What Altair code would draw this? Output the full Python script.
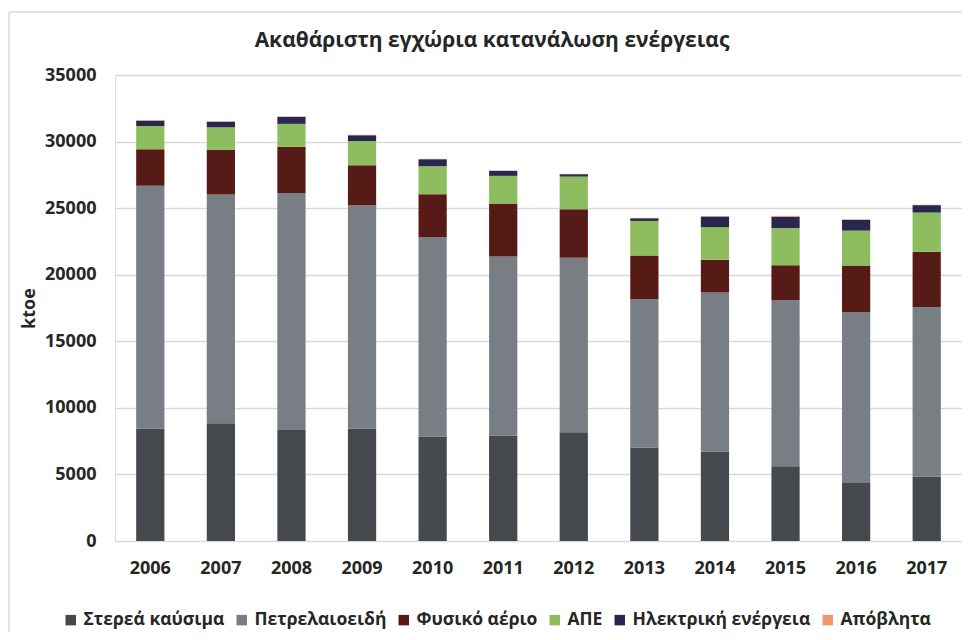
import altair as alt
import pandas as pd

years = ["2006", "2007", "2008", "2009", "2010", "2011",
         "2012", "2013", "2014", "2015", "2016", "2017"]
series = ["Στερεά καύσιμα", "Πετρελαιοειδή", "Φυσικό αέριο", "ΑΠΕ",
          "Ηλεκτρική ενέργεια", "Απόβλητα"]
colors = ["#45484d", "#797d84", "#561b16", "#8dbd5e", "#27274f", "#f2976c"]

solid = [8440, 8840, 8340, 8440, 7840, 7915, 8165, 7015, 6715, 5610, 4365, 4840]
petroleum = [18250, 17180, 17790, 16785, 14985, 13455, 13105, 11155, 11950, 12485, 12830, 12730]
gas = [2730, 3350, 3470, 3000, 3225, 3975, 3655, 3270, 2455, 2625, 3495, 4150]
res = [1750, 1700, 1730, 1825, 2100, 2080, 2445, 2600, 2455, 2775, 2625, 2950]
elec = [400, 420, 525, 425, 525, 375, 180, 200, 795, 850, 805, 555]
waste = [40, 30, 30, 30, 30, 30, 30, 30, 30, 75, 40, 30]
y_ticks = [0, 5000, 10000, 15000, 20000, 25000, 30000, 35000]
title_text = "Ακαθάριστη εγχώρια κατανάλωση ενέργειας"

values = [solid, petroleum, gas, res, elec, waste]
rows = []
for si, (name, vals) in enumerate(zip(series, values)):
    for y, v in zip(years, vals):
        rows.append({"year": y, "series": name, "value": v, "order": si})
df = pd.DataFrame(rows)

FONT = "Open Sans"

bars = alt.Chart(df).mark_bar().encode(
    x=alt.X("year:N", sort=years,
            scale=alt.Scale(paddingInner=0.6, paddingOuter=0.3),
            axis=alt.Axis(title=None, labelAngle=0, ticks=False, domain=False,
                          labelFont=FONT, labelFontSize=18, labelFontWeight="bold",
                          labelColor="#262626", labelPadding=18)),
    y=alt.Y("value:Q", stack="zero",
            scale=alt.Scale(domain=[0, 35000], nice=False),
            axis=alt.Axis(title="ktoe", values=y_ticks, format="d", ticks=False,
                          domain=False, grid=True, gridColor="#d9d9d9", gridWidth=1.3,
                          labelFont=FONT, labelFontSize=18, labelFontWeight="bold",
                          labelColor="#262626", labelPadding=19,
                          titleFont=FONT, titleFontSize=18, titleFontWeight="bold",
                          titleColor="#262626", titlePadding=6)),
    color=alt.Color("series:N", sort=series,
                    scale=alt.Scale(domain=series, range=colors),
                    legend=alt.Legend(orient="none", legendX=-53, legendY=536,
                                      direction="horizontal", title=None,
                                      symbolType="square", symbolSize=110,
                                      symbolStrokeWidth=0, symbolOpacity=1,
                                      labelFont=FONT, labelFontSize=17.5,
                                      labelFontWeight="bold", labelColor="#262626",
                                      labelLimit=400,
                                      labelOffset=4, columnPadding=8, padding=0)),
    order=alt.Order("order:Q", sort="ascending"),
)

frame_df = pd.DataFrame({"k": [0]})
frame_left = alt.Chart(frame_df).mark_rule(color="#d9d9d9", strokeWidth=1.5).encode(
    x=alt.value(-106), y=alt.value(-63), y2=alt.value(560))
frame_top = alt.Chart(frame_df).mark_rule(color="#d9d9d9", strokeWidth=1.5).encode(
    x=alt.value(-106), x2=alt.value(860), y=alt.value(-63))
title = alt.Chart(frame_df).mark_text(
    text=title_text, font=FONT, fontSize=21, fontWeight="bold", color="#262626",
    align="center", baseline="middle").encode(x=alt.value(377), y=alt.value(-34))

chart = alt.layer(frame_left, frame_top, title, bars).properties(
    width=847,
    height=466,
    autosize=alt.AutoSizeParams(type="none"),
    padding={"left": 107, "top": 67, "right": 0, "bottom": 91},
).configure_view(stroke=None).configure(background="white")

chart.save("out.html", embed_options={"renderer": "svg", "actions": False})
